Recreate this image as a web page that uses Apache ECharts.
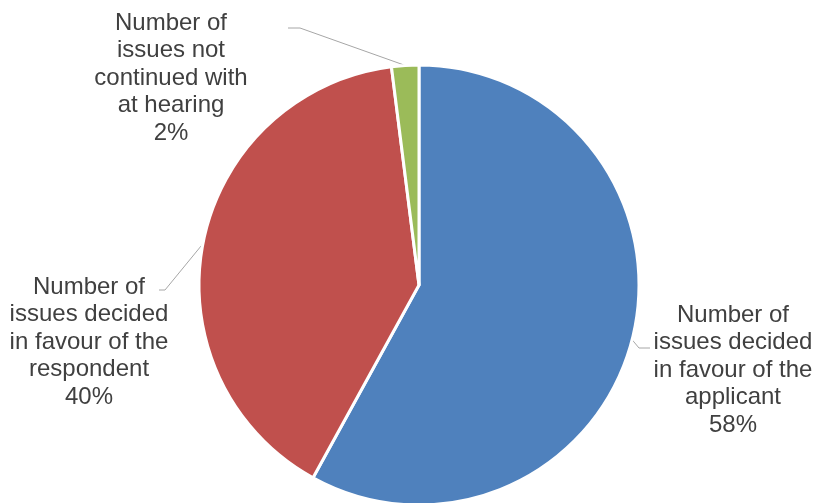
<!DOCTYPE html>
<html>
<head>
<meta charset="utf-8">
<script src="https://cdn.jsdelivr.net/npm/echarts@6/dist/echarts.min.js"></script>
<style>
  html, body { margin: 0; padding: 0; background: #fff; }
  #chart { width: 816px; height: 503px; }
</style>
</head>
<body>
<div id="chart"></div>
<script>
  // 类别（已按图中换行）
  var categories = [
    'Number of\nissues decided\nin favour of the\napplicant',
    'Number of\nissues decided\nin favour of the\nrespondent',
    'Number of\nissues not\ncontinued with\nat hearing'
  ];
  var shares = [58, 40, 2];
  var colors = ['#4f81bd', '#c0504d', '#9bbb59'];

  // 标签中心位置（像素）
  var labelPos = [[733, 370], [89, 342], [171, 78]];
  // 引导线拐点和终点（像素）
  var lineEnds = [
    [[639, 348], [650, 348]],
    [[165, 290], [159, 290]],
    [[300, 28], [288, 28]]
  ];

  var myChart = echarts.init(document.getElementById('chart'));
  var pieData = [];
  for (var i = 0; i < categories.length; i++) {
    pieData.push({ name: categories[i], value: shares[i], itemStyle: { color: colors[i] } });
  }

  var option = {
    animation: false,
    series: [{
      type: 'pie',
      center: [419, 285],
      radius: 220,
      startAngle: 90,
      clockwise: true,
      emphasis: { disabled: true },
      itemStyle: {
        borderColor: '#ffffff',
        borderWidth: 3
      },
      label: {
        show: true,
        position: 'outside',
        formatter: '{b}\n{d}%',
        color: '#404040',
        fontFamily: 'Liberation Sans, Arial, sans-serif',
        fontSize: 24,
        lineHeight: 27.5,
        align: 'center',
        overflow: 'none'
      },
      labelLine: {
        show: true,
        length: 10,
        length2: 10,
        lineStyle: { color: '#a6a6a6', width: 1 }
      },
      labelLayout: function (params) {
        var idx = params.dataIndex;
        var p = labelPos[idx];
        var res = { x: p[0], y: p[1], align: 'center', verticalAlign: 'middle' };
        if (params.labelLinePoints && params.labelLinePoints.length) {
          var start = params.labelLinePoints[0];
          res.labelLinePoints = [start, lineEnds[idx][0], lineEnds[idx][1]];
        }
        return res;
      },
      data: pieData
    }]
  };
  myChart.setOption(option);
</script>
</body>
</html>
